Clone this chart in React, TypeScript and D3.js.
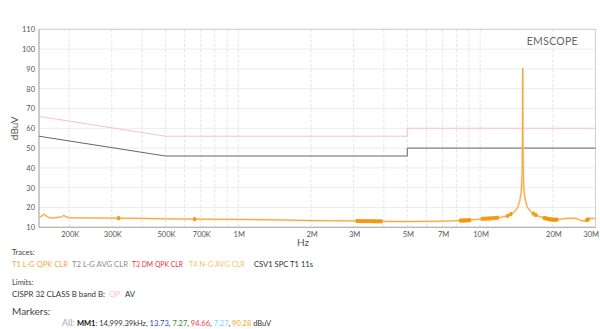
import React from "react";
import * as d3 from "d3";

const W = 600;
const H = 329;

// Axis ticks
const yTicks = [10, 20, 30, 40, 50, 60, 70, 80, 90, 100, 110];
const xTickValues = [2e5, 3e5, 5e5, 7e5, 1e6, 2e6, 3e6, 5e6, 7e6, 1e7, 2e7, 3e7];
const xTickLabels = ["200K", "300K", "500K", "700K", "1M", "2M", "3M", "5M", "7M", "10M", "20M", "30M"];
const xGridValues = [
  2e5, 3e5, 4e5, 5e5, 6e5, 7e5, 8e5, 9e5,
  1e6, 2e6, 3e6, 4e6, 5e6, 6e6, 7e6, 8e6, 9e6,
  1e7, 2e7, 3e7,
];

// Limit lines (CISPR 32 Class B)
const qpFreq = [1.5e5, 5e5, 5e6, 5e6, 3e7];
const qpLevel = [66, 56, 56, 60, 60];
const avFreq = [1.5e5, 5e5, 5e6, 5e6, 3e7];
const avLevel = [56, 46, 46, 50, 50];

// Trace T1 (MHz, dBuV)
const traceFreqMHz = [
  0.15, 0.153, 0.157, 0.161, 0.166, 0.175, 0.186, 0.19, 0.194, 0.2, 0.25, 0.32, 0.4, 0.5, 0.7,
  1.0, 1.5, 2.0, 3.0, 4.0, 5.0, 6.0, 7.0, 8.0, 9.0, 10.0, 11.0, 12.0, 13.0, 13.8, 14.3, 14.6,
  14.8, 14.9, 14.96, 14.99, 15.0, 15.01, 15.04, 15.1, 15.2, 15.4, 15.7, 16.3, 17.0, 18.0,
  19.0, 20.0, 21.0, 22.0, 23.5, 25.0, 26.0, 27.0, 28.0, 29.0, 30.0,
];
const traceLevel = [
  15.2, 15.5, 16.6, 15.6, 14.8, 14.8, 15.3, 16.0, 15.3, 14.8, 14.7, 14.6, 14.5, 14.3, 14.1,
  14.0, 13.7, 13.4, 13.2, 13.0, 12.9, 13.0, 13.1, 13.3, 13.6, 14.2, 14.5, 14.9, 15.8, 17.5, 20.0, 23.5,
  28, 35, 50, 75, 90.3, 75, 50, 35, 28, 23.5, 20, 17.5, 16.2, 15.0,
  14.3, 13.8, 13.9, 14.3, 14.6, 14.5, 13.5, 13.2, 14.0, 14.6, 14.2,
];

// Peak-detection marker frequencies (MHz) shown along T1
const markerFreqMHz = [
  0.32, 0.66,
  3.1, 3.18, 3.26, 3.34, 3.42, 3.5, 3.58, 3.66, 3.74, 3.82, 3.9,
  8.3, 8.45, 8.6, 8.75, 8.9, 9.05,
  10.2, 10.45, 10.7, 10.95, 11.2, 11.5, 11.8,
  13.0, 13.4,
  16.6, 17.0,
  18.4, 18.7, 19.0, 19.3, 19.6, 19.9, 20.2, 20.5, 20.8,
  27.6, 28.0,
];

const traceLegend = [
  { text: "T1 L-G QPK CLR", color: "#f5a53c" },
  { text: "T2 L-G AVG CLR", color: "#8c8c8c" },
  { text: "T3 DM QPK CLR", color: "#e8333f" },
  { text: "T4 N-G AVG CLR", color: "#f7c46a" },
  { text: "CSV1 SPC T1 11s", color: "#333333" },
];

const markerValues = [
  { text: "13.73", color: "#2b3fc0" },
  { text: "7.27", color: "#2e8b2e" },
  { text: "94.66", color: "#ee3b3b" },
  { text: "7.27", color: "#7fd8f0" },
  { text: "90.28", color: "#f5a623" },
];

const FONT = "Lato, 'Open Sans', sans-serif";

export default function App() {
  const left = 39;
  const right = 595.5;
  const top = 29.3;
  const bottom = 227.3;

  const x = d3.scaleLog().domain([1.5e5, 3e7]).range([left, right]);
  const y = d3.scaleLinear().domain([10, 110]).range([bottom, top]);

  const limitLine = d3
    .line<[number, number]>()
    .x((d) => x(d[0]))
    .y((d) => y(d[1]));

  const qpPts: [number, number][] = qpFreq.map((f, i) => [f, qpLevel[i]]);
  const avPts: [number, number][] = avFreq.map((f, i) => [f, avLevel[i]]);
  const tracePts: [number, number][] = traceFreqMHz.map((f, i) => [f * 1e6, traceLevel[i]]);

  const interp = (fHz: number) => {
    const fs = traceFreqMHz.map((f) => f * 1e6);
    for (let i = 0; i < fs.length - 1; i++) {
      if (fHz >= fs[i] && fHz <= fs[i + 1]) {
        const t = (Math.log(fHz) - Math.log(fs[i])) / (Math.log(fs[i + 1]) - Math.log(fs[i]));
        return traceLevel[i] + t * (traceLevel[i + 1] - traceLevel[i]);
      }
    }
    return traceLevel[traceLevel.length - 1];
  };

  const legendX = [12, 72, 132, 189, 254];
  const legendW = [56, 56, 51, 56, 59];

  return (
    <svg
      width={W}
      height={H}
      style={{ position: "absolute", left: 0, top: 0, background: "#fff" }}
      fontFamily={FONT}
    >
      {/* horizontal grid */}
      {yTicks.map((t) => (
        <line key={"hg" + t} x1={left} x2={right} y1={y(t)} y2={y(t)} stroke="#ececec" strokeWidth={1} />
      ))}
      {/* vertical grid */}
      {xGridValues.map((v) => (
        <line
          key={"vg" + v}
          x1={x(v)}
          x2={x(v)}
          y1={top}
          y2={bottom}
          stroke="#e4e4e4"
          strokeWidth={1}
          strokeDasharray="3,2"
        />
      ))}
      {/* frame */}
      <rect x={left} y={top} width={right - left} height={bottom - top} fill="none" stroke="#cfcfcf" strokeWidth={1} />
      <line x1={left} x2={left} y1={top} y2={bottom} stroke="#b0b0b0" />
      <line x1={left} x2={right} y1={bottom} y2={bottom} stroke="#b0b0b0" />

      {/* y tick labels */}
      {yTicks.map((t) => (
        <text key={"yl" + t} x={35} y={y(t) + 2.8} fontSize={7.5} fill="#555" textAnchor="end">
          {t}
        </text>
      ))}
      {/* x tick labels */}
      {xTickValues.map((v, i) => {
        const last = i === xTickValues.length - 1;
        return (
          <text
            key={"xl" + v}
            x={last ? 599 : x(v) + 1}
            y={237}
            fontSize={7.5}
            fill="#555"
            textAnchor={last ? "end" : "middle"}
          >
            {xTickLabels[i]}
          </text>
        );
      })}

      {/* axis titles */}
      <text x={303} y={246} fontSize={10} fill="#555" textAnchor="middle">
        Hz
      </text>
      <text
        transform={`translate(18,${(top + bottom) / 2}) rotate(-90)`}
        fontSize={10}
        fill="#555"
        textAnchor="middle"
      >
        dBuV
      </text>
      <text x={578} y={45} fontSize={10.5} fill="#666" textAnchor="end" letterSpacing={0.3}>
        EMSCOPE
      </text>

      {/* limits */}
      <path d={limitLine(qpPts) || ""} fill="none" stroke="#f6c3cd" strokeWidth={1} />
      <path d={limitLine(avPts) || ""} fill="none" stroke="#666" strokeWidth={1} />

      {/* trace */}
      <path d={limitLine(tracePts) || ""} fill="none" stroke="#fbd49a" strokeWidth={2.2} opacity={0.7} />
      <path d={limitLine(tracePts) || ""} fill="none" stroke="#f5a53c" strokeWidth={1} />
      {markerFreqMHz.map((f, i) => {
        const cx = x(f * 1e6);
        const cy = y(interp(f * 1e6));
        return <rect key={"mk" + i} x={cx - 1.5} y={cy - 2} width={3} height={4} fill="#f39200" opacity={0.85} />;
      })}

      {/* legend */}
      <text x={12} y={255} fontSize={7.5} fill="#444">
        Traces:
      </text>
      {traceLegend.map((t, i) => (
        <text
          key={"tl" + i}
          x={legendX[i]}
          y={267}
          fontSize={7.8}
          fill={t.color}
          textLength={legendW[i]}
          lengthAdjust="spacingAndGlyphs"
        >
          {t.text}
        </text>
      ))}
      <text x={12} y={285} fontSize={7.5} fill="#444">
        Limits:
      </text>
      <text x={12} y={297} fontSize={7.8} fill="#333" textLength={93} lengthAdjust="spacingAndGlyphs">
        CISPR 32 CLASS B band B:
      </text>
      <text x={109} y={297} fontSize={7.8} fill="#f8c4cf">
        QP
      </text>
      <text x={125} y={297} fontSize={7.8} fill="#333">
        AV
      </text>
      <text x={12} y={315} fontSize={10} fill="#444">
        Markers:
      </text>
      <text x={62} y={326} fontSize={7.5} fill="#333">
        <tspan fill="#aaa" fontSize={9}>All: </tspan>
        <tspan fontWeight="bold" fill="#111">MM1</tspan>
        <tspan>: 14,999.39kHz, </tspan>
        {markerValues.map((m, i) => (
          <React.Fragment key={"mv" + i}>
            <tspan fill={m.color}>{m.text}</tspan>
            <tspan fill="#333">{i < markerValues.length - 1 ? ", " : " "}</tspan>
          </React.Fragment>
        ))}
        <tspan>dBuV</tspan>
      </text>
    </svg>
  );
}
